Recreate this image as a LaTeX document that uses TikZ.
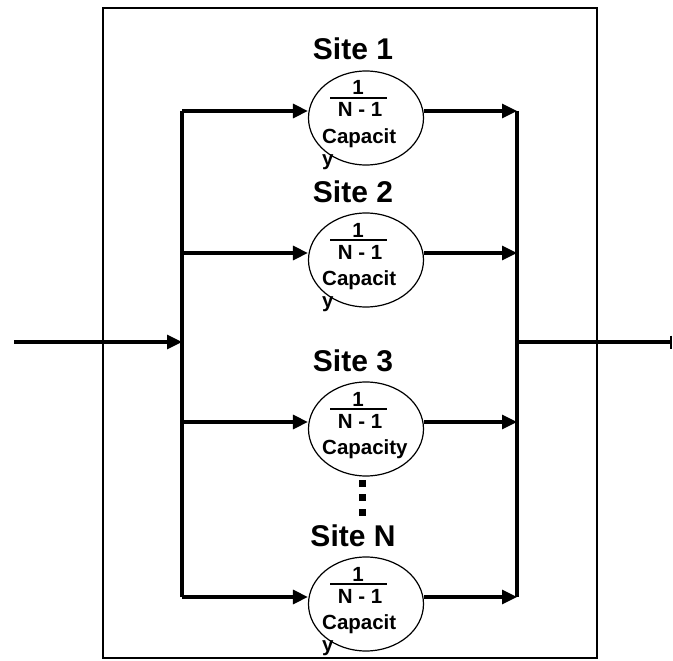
\documentclass[tikz,border=0pt]{standalone}
\usepackage{fontspec}
\setmainfont{Liberation Sans}
\usetikzlibrary{arrows.meta,shapes.geometric}
\tikzset{
  wire/.style={line width=3.2pt},
  arr/.style={wire,-{Triangle[length=15pt,width=14pt]}},
  siteell/.style={draw,line width=1.2pt,ellipse,minimum width=115pt,minimum height=94pt,inner sep=0pt},
  sitelab/.style={font=\bfseries\fontsize{30}{30}\selectfont,anchor=base,inner sep=0pt},
  intext/.style={font=\bfseries\fontsize{20.5}{20.5}\selectfont,inner sep=0pt},
  fracbar/.style={line width=1.6pt},
}
\newcommand\sitegroup[4]{%
  \node[siteell] (e#1) at (366,#3+7) {};
  \node[sitelab] (l#1) at (353,#3-51) {#2};
  \node[intext,anchor=base] (one#1) at (358,#3-16) {1};
  \draw[fracbar] (330,#3-13) -- (387,#3-13);
  \node[intext,anchor=base] (n#1) at (360,#3+6) {N - 1};
  \node[intext,anchor=base west] (c#1) at (322,#3+32) {#4};
  \coordinate (lb#1) at (182,#3);
  \coordinate (rb#1) at (517,#3);
  \draw[arr] (lb#1) -- (lb#1 -| e#1.west);
  \draw[arr] (rb#1 -| e#1.east) -- (rb#1);
}
\begin{document}
\begin{tikzpicture}[x=1pt,y=-1pt]
\useasboundingbox (0,0) rectangle (673,661);
\fill[white] (0,0) rectangle (673,661);
\node[draw,line width=2.2pt,minimum width=494pt,minimum height=650pt,inner sep=0pt] (frame) at (350,333) {};
\sitegroup{1}{Site 1}{111}{Capacit}
\node[intext,anchor=base west] (y1) at (322,165) {y};
\sitegroup{2}{Site 2}{253}{Capacit}
\node[intext,anchor=base west] (y2) at (322,307) {y};
\sitegroup{3}{Site 3}{422}{Capacity}
\sitegroup{4}{Site N}{597}{Capacit}
\node[intext,anchor=base west] (y4) at (322,651) {y};
% buses
\draw[wire] (lb1) -- (lb4);
\draw[wire] (rb1) -- (rb4);
% input / output
\coordinate (inl) at (14,342);
\coordinate (inr) at (182,342);
\coordinate (outl) at (517,342);
\coordinate (outr) at (672,342);
\draw[arr] (inl) -- (inr);
\draw[wire,-{Bar[width=13pt,line width=2pt]}] (outl) -- (outr);
% vertical dots
\foreach \k/\yy in {a/483,b/497,c/512}
  \node[fill=black,minimum size=7pt,inner sep=0pt] (dot\k) at (362,\yy) {};
\end{tikzpicture}
\end{document}
